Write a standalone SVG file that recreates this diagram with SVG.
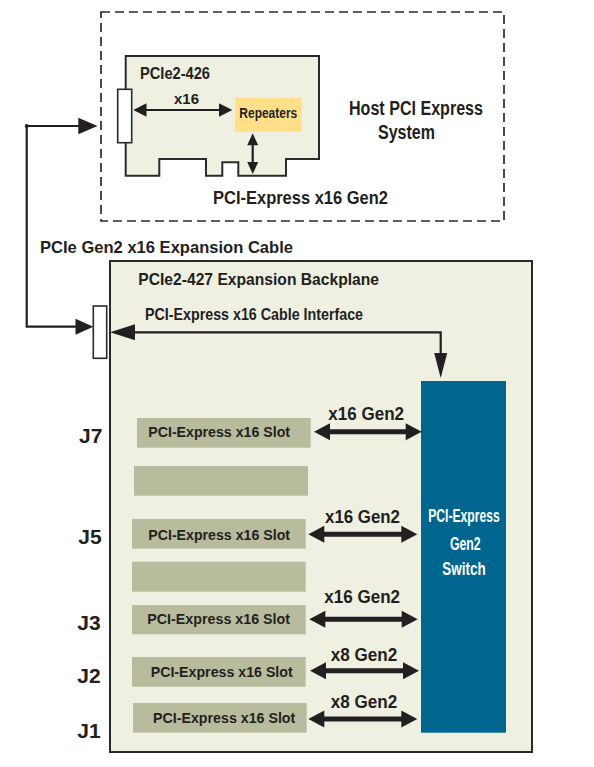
<svg xmlns="http://www.w3.org/2000/svg" width="594" height="767" viewBox="0 0 594 767">
<style>
  text { font-family: "Liberation Sans", Arial, sans-serif; font-weight: bold; fill: #231F20; }
  .board { fill: #EFF0E1; stroke: #2A2A2A; stroke-width: 2; }
  .slot { fill: #B8BC9D; }
  .conn { fill: #FFFFFF; stroke: #2A2A2A; stroke-width: 1.6; }
  .wire { fill: none; stroke: #231F20; stroke-width: 2.2; }
  .thick { fill: none; stroke: #231F20; stroke-width: 5; }
  .head { fill: #231F20; }
  .sw { fill: #FFFFFF; font-size: 18px; }
</style>
<rect width="594" height="767" fill="#FFFFFF"/>

<g id="host-system">
  <rect x="101" y="12" width="403" height="209" fill="none" stroke="#2A2A2A" stroke-width="1.7" stroke-dasharray="9 5"/>
  <text x="349" y="115" font-size="20" textLength="134" lengthAdjust="spacingAndGlyphs">Host PCI Express</text>
  <text x="378" y="139" font-size="20" textLength="57" lengthAdjust="spacingAndGlyphs">System</text>
  <text x="213" y="204" font-size="19" textLength="175" lengthAdjust="spacingAndGlyphs">PCI-Express x16 Gen2</text>
</g>

<g id="card-pcie2-426">
  <polygon class="board" points="125.7,56 319,56 319,159 286,159 286,175.7 238.3,175.7 238.3,162.3 222.3,162.3 222.3,175.7 206,175.7 206,159 159.3,159 159.3,175.7 125.7,175.7"/>
  <text x="140" y="79" font-size="16.5" textLength="70" lengthAdjust="spacingAndGlyphs">PCIe2-426</text>
  <text x="174" y="104" font-size="14.5" textLength="25" lengthAdjust="spacingAndGlyphs">x16</text>
</g>

<g id="card-connector">
  <rect class="conn" x="117.7" y="89.3" width="14" height="53.4"/>
</g>

<g id="repeaters">
  <rect x="235" y="97.7" width="66.7" height="34" fill="#FFE089"/>
  <text x="239.3" y="117.5" font-size="14.5" textLength="58" lengthAdjust="spacingAndGlyphs">Repeaters</text>
</g>

<g id="cable-label">
  <text x="40" y="252.7" font-size="17" textLength="253" lengthAdjust="spacingAndGlyphs">PCIe Gen2 x16 Expansion Cable</text>
</g>

<g id="backplane">
  <rect class="board" x="110" y="261" width="422" height="491"/>
  <text x="138.3" y="285" font-size="16.5" textLength="240.7" lengthAdjust="spacingAndGlyphs">PCIe2-427 Expansion Backplane</text>
  <text x="145" y="320" font-size="17" textLength="218" lengthAdjust="spacingAndGlyphs">PCI-Express x16 Cable Interface</text>
</g>

<g id="cable-interface">
  <rect class="conn" x="93.3" y="306" width="13.4" height="52.3"/>
</g>

<g id="switch">
  <rect x="421" y="381" width="85" height="351.7" fill="#00658F"/>
  <text class="sw" x="464" y="521.7" text-anchor="middle" textLength="71.7" lengthAdjust="spacingAndGlyphs">PCI-Express</text>
  <text class="sw" x="465.3" y="550" text-anchor="middle" textLength="30.7" lengthAdjust="spacingAndGlyphs">Gen2</text>
  <text class="sw" x="464" y="575" text-anchor="middle" textLength="43.3" lengthAdjust="spacingAndGlyphs">Switch</text>
</g>

<g id="slot-j7">
  <rect class="slot" x="137" y="418" width="173.7" height="29.7"/>
  <text x="148.3" y="437.3" font-size="14" textLength="141.7" lengthAdjust="spacingAndGlyphs">PCI-Express x16 Slot</text>
  <text x="79" y="443.3" font-size="21">J7</text>
</g>
<g id="slot-blank-1">
  <rect class="slot" x="134" y="466" width="174" height="29.7"/>
</g>
<g id="slot-j5">
  <rect class="slot" x="132" y="519" width="173.7" height="29.7"/>
  <text x="148.3" y="540" font-size="14" textLength="141.7" lengthAdjust="spacingAndGlyphs">PCI-Express x16 Slot</text>
  <text x="78.3" y="544" font-size="21">J5</text>
</g>
<g id="slot-blank-2">
  <rect class="slot" x="132" y="561.7" width="173.7" height="30"/>
</g>
<g id="slot-j3">
  <rect class="slot" x="132" y="605" width="173.7" height="29.3"/>
  <text x="147.3" y="624" font-size="14" textLength="142.7" lengthAdjust="spacingAndGlyphs">PCI-Express x16 Slot</text>
  <text x="77.3" y="630" font-size="21">J3</text>
</g>
<g id="slot-j2">
  <rect class="slot" x="132" y="657" width="173.7" height="29.7"/>
  <text x="150.7" y="676.7" font-size="14" textLength="142" lengthAdjust="spacingAndGlyphs">PCI-Express x16 Slot</text>
  <text x="77.3" y="683.3" font-size="21">J2</text>
</g>
<g id="slot-j1">
  <rect class="slot" x="133" y="703" width="173.7" height="29.7"/>
  <text x="153" y="723.3" font-size="14" textLength="142.3" lengthAdjust="spacingAndGlyphs">PCI-Express x16 Slot</text>
  <text x="77.3" y="738.3" font-size="21">J1</text>
</g>

<g id="connectors">
  <!-- expansion cable -->
  <circle cx="26.7" cy="126" r="2" class="head"/>
  <polyline class="wire" points="81,126 26.7,126 26.7,326.7 77,326.7"/>
  <polygon class="head" points="97.5,126 78.3,117.7 78.3,134.3"/>
  <polygon class="head" points="93.3,326.7 75.5,318.7 75.5,334.7"/>
  <!-- card x16 -->
  <line class="wire" x1="142" y1="110" x2="224" y2="110"/>
  <polygon class="head" points="133.3,110 146.5,103.3 146.5,116.7"/>
  <polygon class="head" points="232.3,110 219,103.3 219,116.7"/>
  <!-- repeaters to edge -->
  <line class="wire" x1="252.7" y1="140" x2="252.7" y2="167"/>
  <polygon class="head" points="252.7,133.3 247.2,145.3 258.2,145.3"/>
  <polygon class="head" points="252.7,174 247.2,162 258.2,162"/>
  <!-- cable interface to switch -->
  <polyline class="wire" points="128,332.3 440.7,332.3 440.7,356"/>
  <polygon class="head" points="110,332.3 135,324.3 135,340.3"/>
  <polygon class="head" points="440.7,378 434.2,353 447.2,353"/>
  <!-- slot links -->
  <line class="thick" x1="324" y1="431.7" x2="411" y2="431.7"/>
  <polygon class="head" points="314,431.7 330,423.2 330,440.2"/>
  <polygon class="head" points="421.7,431.7 405.7,423.2 405.7,440.2"/>
  <text x="328.3" y="420" font-size="17.5" textLength="75.7" lengthAdjust="spacingAndGlyphs">x16 Gen2</text>

  <line class="thick" x1="318" y1="534.3" x2="407" y2="534.3"/>
  <polygon class="head" points="308.3,534.3 324.3,525.8 324.3,542.8"/>
  <polygon class="head" points="417.3,534.3 401.3,525.8 401.3,542.8"/>
  <text x="325" y="523.3" font-size="17.5" textLength="75" lengthAdjust="spacingAndGlyphs">x16 Gen2</text>

  <line class="thick" x1="319" y1="619.3" x2="408" y2="619.3"/>
  <polygon class="head" points="309.3,619.3 325.3,610.8 325.3,627.8"/>
  <polygon class="head" points="417.7,619.3 401.7,610.8 401.7,627.8"/>
  <text x="324.3" y="603.3" font-size="17.5" textLength="75.7" lengthAdjust="spacingAndGlyphs">x16 Gen2</text>

  <line class="thick" x1="320" y1="670.7" x2="409" y2="670.7"/>
  <polygon class="head" points="310,670.7 326,662.2 326,679.2"/>
  <polygon class="head" points="419,670.7 403,662.2 403,679.2"/>
  <text x="330.7" y="660.7" font-size="17.5" textLength="66.6" lengthAdjust="spacingAndGlyphs">x8 Gen2</text>

  <line class="thick" x1="318" y1="719" x2="407" y2="719"/>
  <polygon class="head" points="308.3,719 324.3,710.5 324.3,727.5"/>
  <polygon class="head" points="417.3,719 401.3,710.5 401.3,727.5"/>
  <text x="330.7" y="708.3" font-size="17.5" textLength="66.6" lengthAdjust="spacingAndGlyphs">x8 Gen2</text>
</g>
</svg>
